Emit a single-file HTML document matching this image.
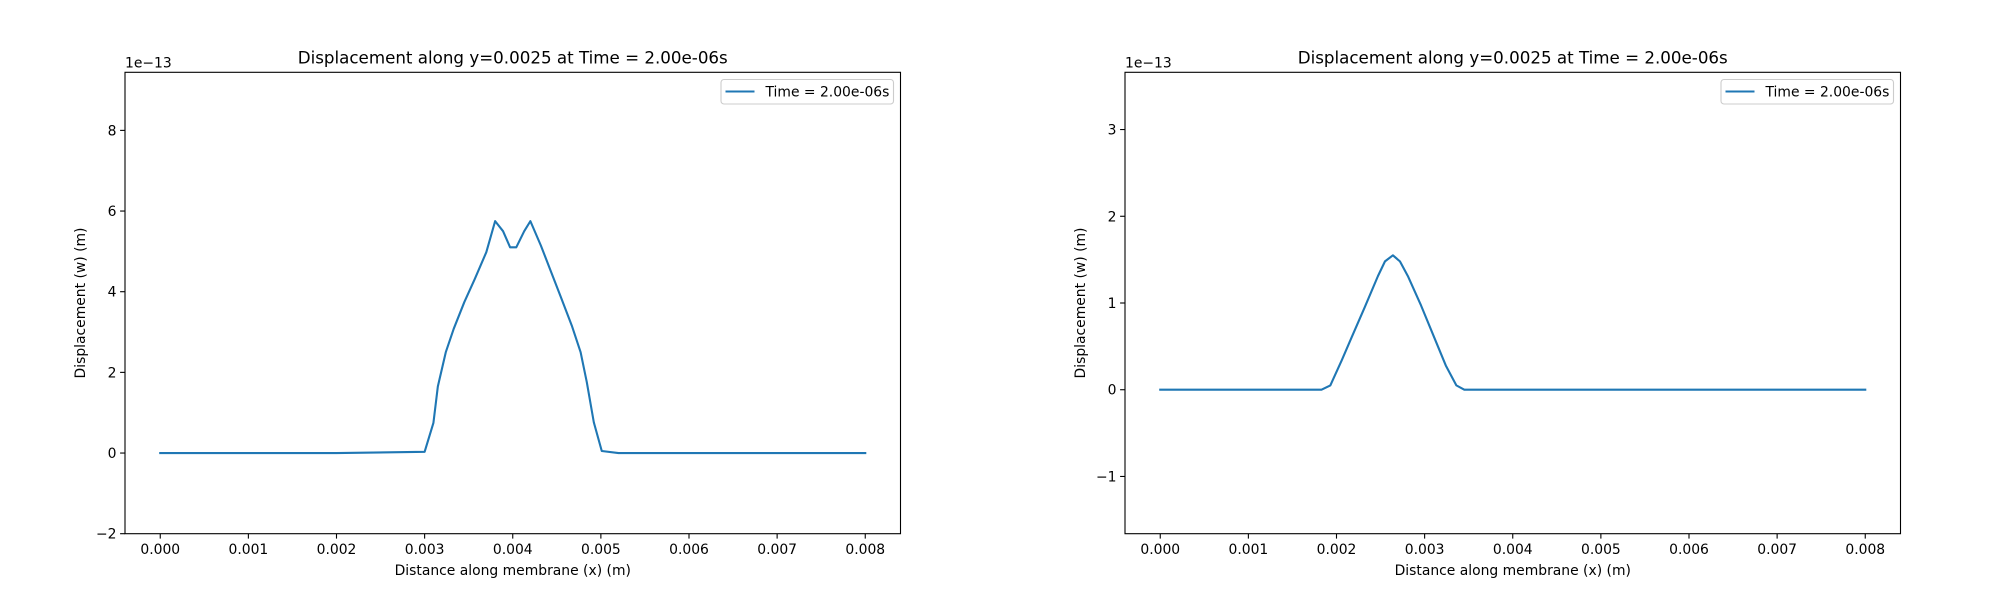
<!DOCTYPE html>
<html><head><meta charset="utf-8"><style>
html,body{margin:0;padding:0;background:#fff;}
svg{display:block;font-family:"DejaVu Sans","Liberation Sans",sans-serif;}
</style></head><body>
<svg id="fig" width="2000" height="600" viewBox="0 0 2000 600" xmlns="http://www.w3.org/2000/svg"></svg>
<script>
// ---- data ----
const xTicks = [0, 0.001, 0.002, 0.003, 0.004, 0.005, 0.006, 0.007, 0.008];
const xTickLabels = ["0.000","0.001","0.002","0.003","0.004","0.005","0.006","0.007","0.008"];
const leftYTicks = [-2, 0, 2, 4, 6, 8];
const leftYTickLabels = ["\u22122","0","2","4","6","8"];
const rightYTicks = [-1, 0, 1, 2, 3];
const rightYTickLabels = ["\u22121","0","1","2","3"];
const leftX = [0, 0.0010, 0.0020, 0.0030, 0.0031, 0.00315, 0.00324, 0.00333, 0.00345, 0.00357, 0.0037, 0.0038, 0.00389, 0.00397, 0.00404, 0.00413, 0.0042, 0.00432, 0.00443, 0.00454, 0.00467, 0.00477, 0.00484, 0.00492, 0.00501, 0.0052, 0.0060, 0.0070, 0.0080];
const leftY = [0, 0, 0, 0.03, 0.75, 1.65, 2.5, 3.08, 3.74, 4.32, 4.98, 5.75, 5.5, 5.1, 5.1, 5.5, 5.75, 5.14, 4.52, 3.9, 3.16, 2.5, 1.76, 0.76, 0.05, 0, 0, 0, 0];
const rightX = [0, 0.0010, 0.00183, 0.00193, 0.00206, 0.00217, 0.00232, 0.00247, 0.00255, 0.00264, 0.00272, 0.00281, 0.00296, 0.00311, 0.00324, 0.00336, 0.00345, 0.0050, 0.0080];
const rightY = [0, 0, 0, 0.05, 0.34, 0.6, 0.95, 1.31, 1.48, 1.55, 1.48, 1.31, 0.97, 0.6, 0.28, 0.05, 0, 0, 0];

const NS = "http://www.w3.org/2000/svg";
const fig = document.getElementById("fig");
function mk(tag, attrs, parent, txt){
  const e = document.createElementNS(NS, tag);
  for (const k in attrs) e.setAttribute(k, attrs[k]);
  if (txt !== undefined) e.textContent = txt;
  (parent || fig).appendChild(e);
  return e;
}

function drawPanel(pfx, offX, ylim, yTicks, yLabels, xs, ys){
  const L = 125 + offX, R = 900.5 + offX, T = 72.3, B = 533.7;
  const xmin = -0.0004, xmax = 0.0084;
  const sx = v => L + (v - xmin) / (xmax - xmin) * (R - L);
  const sy = v => B - (v - ylim[0]) / (ylim[1] - ylim[0]) * (B - T);
  const g = mk("g", {});
  
  

  let d = "";
  xs.forEach((x, i) => { d += (i ? "L" : "M") + sx(x).toFixed(2) + " " + sy(ys[i]).toFixed(2); });
  const line = mk("path", {d: d, fill: "none", stroke: "#1f77b4", "stroke-width": 2.1, "stroke-linejoin": "round", "stroke-linecap": "square"}, g);
  
  

  const frame = mk("rect", {x: L, y: T, width: R - L, height: B - T, fill: "none", stroke: "#000", "stroke-width": 1.1}, g);
  
  

  xTicks.forEach((v, i) => {
    const x = sx(v);
    const t = mk("line", {x1: x, x2: x, y1: B, y2: B + 4.9, stroke: "#000", "stroke-width": 1.1}, g);
    
    
    const lb = mk("text", {x: x, y: B + 20.5, "font-size": 13.9, "text-anchor": "middle", fill: "#000"}, g, xTickLabels[i]);
    
    
  });
  yTicks.forEach((v, i) => {
    const y = sy(v);
    const t = mk("line", {x1: L - 4.9, x2: L, y1: y, y2: y, stroke: "#000", "stroke-width": 1.1}, g);
    
    
    const lb = mk("text", {x: L - 8.5, y: y + 5, "font-size": 13.9, "text-anchor": "end", fill: "#000"}, g, yLabels[i]);
    
    
  });
  const off = mk("text", {x: L, y: 67.5, "font-size": 13.9, fill: "#000"}, g, "1e\u221213");
  
  
  const title = mk("text", {x: (L + R) / 2, y: 63.5, "font-size": 16.7, "text-anchor": "middle", fill: "#000"}, g, "Displacement along y=0.0025 at Time = 2.00e-06s");
  
  
  const xl = mk("text", {x: (L + R) / 2, y: 575, "font-size": 13.9, "text-anchor": "middle", fill: "#000"}, g, "Distance along membrane (x) (m)");
  
  
  const yx = 85 + offX, yy = (T + B) / 2;
  const yl = mk("text", {x: yx, y: yy, "font-size": 13.9, "text-anchor": "middle", fill: "#000", transform: "rotate(-90 " + yx + " " + yy + ")"}, g, "Displacement (w) (m)");
  
  
  const lg = mk("g", {}, g);
  
  
  const box = mk("rect", {x: 721 + offX, y: 79.5, width: 172.5, height: 24.5, rx: 3, fill: "#fff", "fill-opacity": 0.8, stroke: "#cccccc", "stroke-width": 1.1}, lg);
  
  
  const sw = mk("line", {x1: 725.5 + offX, x2: 754.5 + offX, y1: 91.5, y2: 91.5, stroke: "#1f77b4", "stroke-width": 2.1}, lg);
  
  
  const lt = mk("text", {x: 765.5 + offX, y: 96.5, "font-size": 13.9, fill: "#000"}, lg, "Time = 2.00e-06s");
  
  
}

drawPanel("left", 0, [-2, 9.44], leftYTicks, leftYTickLabels, leftX, leftY);
drawPanel("right", 1000, [-1.66, 3.66], rightYTicks, rightYTickLabels, rightX, rightY);
</script>
</body></html>
